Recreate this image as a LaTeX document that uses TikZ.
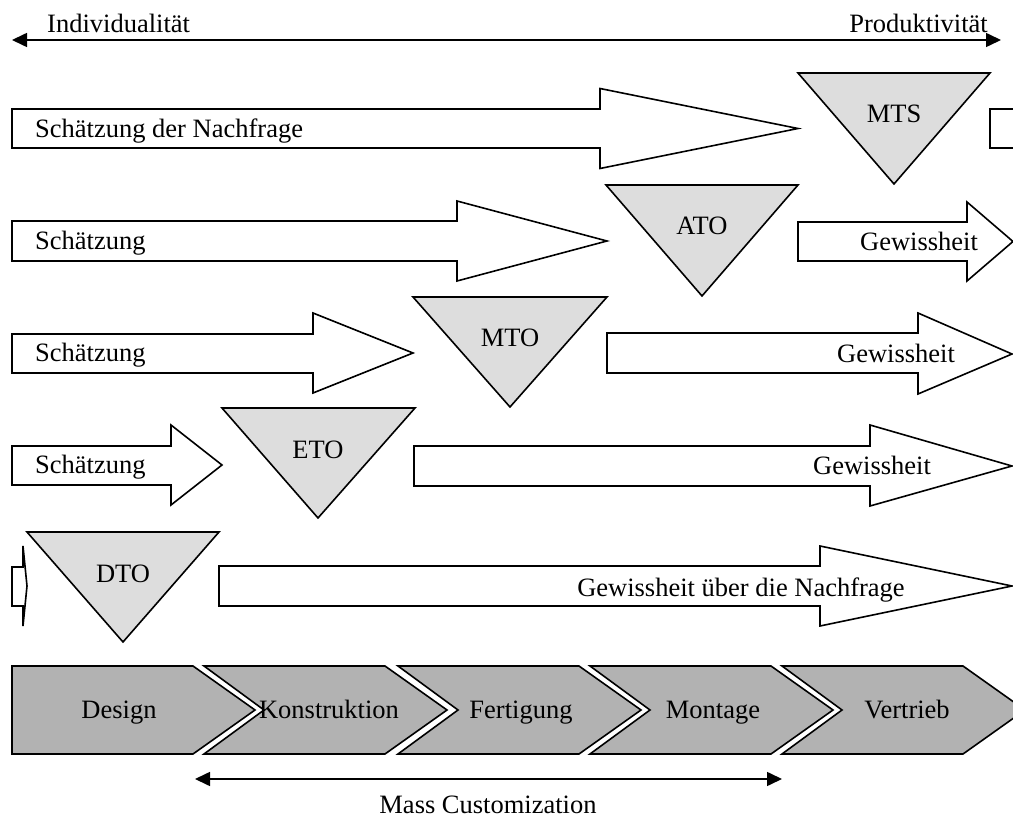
\documentclass[tikz,border=0pt]{standalone}
\usepackage{fontspec}
\setmainfont{Liberation Serif}
\usetikzlibrary{arrows.meta}
\definecolor{trifill}{HTML}{DDDDDD}
\definecolor{stagefill}{HTML}{B2B2B2}
\begin{document}
\begin{tikzpicture}[x={(1pt,0)}, y={(0,-1pt)},
  font=\fontsize{26.5}{30}\selectfont,
  blockarrow/.style={draw=black, fill=white, line width=1.6pt, line join=miter},
  decoupling/.style={draw=black, fill=trifill, line width=1.6pt, line join=miter},
  stage/.style={draw=black, fill=stagefill, line width=1.6pt, line join=miter},
  lbl/.style={inner sep=0pt, anchor=base},
  lblw/.style={inner sep=0pt, anchor=base west},
  lble/.style={inner sep=0pt, anchor=base east},
  axis/.style={line width=1.6pt, {Triangle[length=15pt,width=14pt]}-{Triangle[length=15pt,width=14pt]}}]
\useasboundingbox (0,0) rectangle (1013,818);

% axis Individualitaet <-> Produktivitaet
\coordinate (axL) at (12,40);
\coordinate (axR) at (1001,40);
\draw[axis] (axL) -- (axR);
\node[lblw] (indiv) at (47,33) {Individualität};
\node[lble] (prod) at (988,33) {Produktivität};

\begin{scope}
\clip (0,0) rectangle (1013,818);
% row 1: MTS
\draw[blockarrow] (12,109)--(600,109)--(600,88.5)--(798,128.5)--(600,168.5)--(600,148)--(12,148)--cycle;
\draw[blockarrow] (990,109) rectangle (1040,148);
% row 2: ATO
\draw[blockarrow] (12,221)--(457,221)--(457,201)--(607,241)--(457,281)--(457,261)--(12,261)--cycle;
\draw[blockarrow] (798,222)--(967,222)--(967,202)--(1013,241.5)--(967,281)--(967,261)--(798,261)--cycle;
% row 3: MTO
\draw[blockarrow] (12,334)--(313,334)--(313,313)--(413,353)--(313,393)--(313,373)--(12,373)--cycle;
\draw[blockarrow] (607,333)--(918,333)--(918,313)--(1012,354)--(918,394)--(918,373)--(607,373)--cycle;
% row 4: ETO
\draw[blockarrow] (12,446)--(171,446)--(171,425)--(222,465)--(171,505)--(171,485)--(12,485)--cycle;
\draw[blockarrow] (414,446)--(870,446)--(870,425)--(1012,466)--(870,506)--(870,486)--(414,486)--cycle;
% row 5: DTO
\draw[blockarrow] (12,567)--(23,567)--(23,546)--(27,586)--(23,626)--(23,606)--(12,606)--cycle;
\draw[blockarrow] (219,566)--(820,566)--(820,546)--(1012,586)--(820,626)--(820,606)--(219,606)--cycle;

% decoupling points
\draw[decoupling] (798,73)--(990,73)--(894,184)--cycle;
\draw[decoupling] (606,185)--(798,185)--(702,296)--cycle;
\draw[decoupling] (413,297)--(607,297)--(510,407)--cycle;
\draw[decoupling] (222,408)--(415,408)--(318,518)--cycle;
\draw[decoupling] (27,532)--(219,532)--(123,642)--cycle;

% process stages
\draw[stage] (12,666)--(193,666)--(255,710)--(193,754)--(12,754)--cycle;
\foreach \x in {204,398,590,782}{
  \draw[stage] (\x,666)--(\x+181,666)--(\x+243,710)--(\x+181,754)--(\x,754)--(\x+60,710)--cycle;
}
\end{scope}

% arrow labels
\node[lblw] (s1) at (35,138) {Schätzung der Nachfrage};
\node[lblw] (s2) at (35,250) {Schätzung};
\node[lblw] (s3) at (35,362) {Schätzung};
\node[lblw] (s4) at (35,474) {Schätzung};
\node[lbl] (g2) at (919,251) {Gewissheit};
\node[lbl] (g3) at (896,363) {Gewissheit};
\node[lbl] (g4) at (872,475) {Gewissheit};
\node[lbl] (g5) at (741,596) {Gewissheit über die Nachfrage};

% decoupling labels
\node[lbl] (mts) at (894,123) {MTS};
\node[lbl] (ato) at (702,235) {ATO};
\node[lbl] (mto) at (510,347) {MTO};
\node[lbl] (eto) at (318,458) {ETO};
\node[lbl] (dto) at (123,582) {DTO};

% stage labels
\node[lbl] (design) at (119,718) {Design};
\node[lbl] (konstr) at (329,718) {Konstruktion};
\node[lbl] (fert) at (521,718) {Fertigung};
\node[lbl] (mont) at (713,718) {Montage};
\node[lbl] (vertr) at (907,718) {Vertrieb};

% mass customization span
\coordinate (mcL) at (195,779);
\coordinate (mcR) at (782,779);
\draw[axis] (mcL) -- (mcR);
\node[lbl] (mc) at (488,813) {Mass Customization};
\end{tikzpicture}
\end{document}
